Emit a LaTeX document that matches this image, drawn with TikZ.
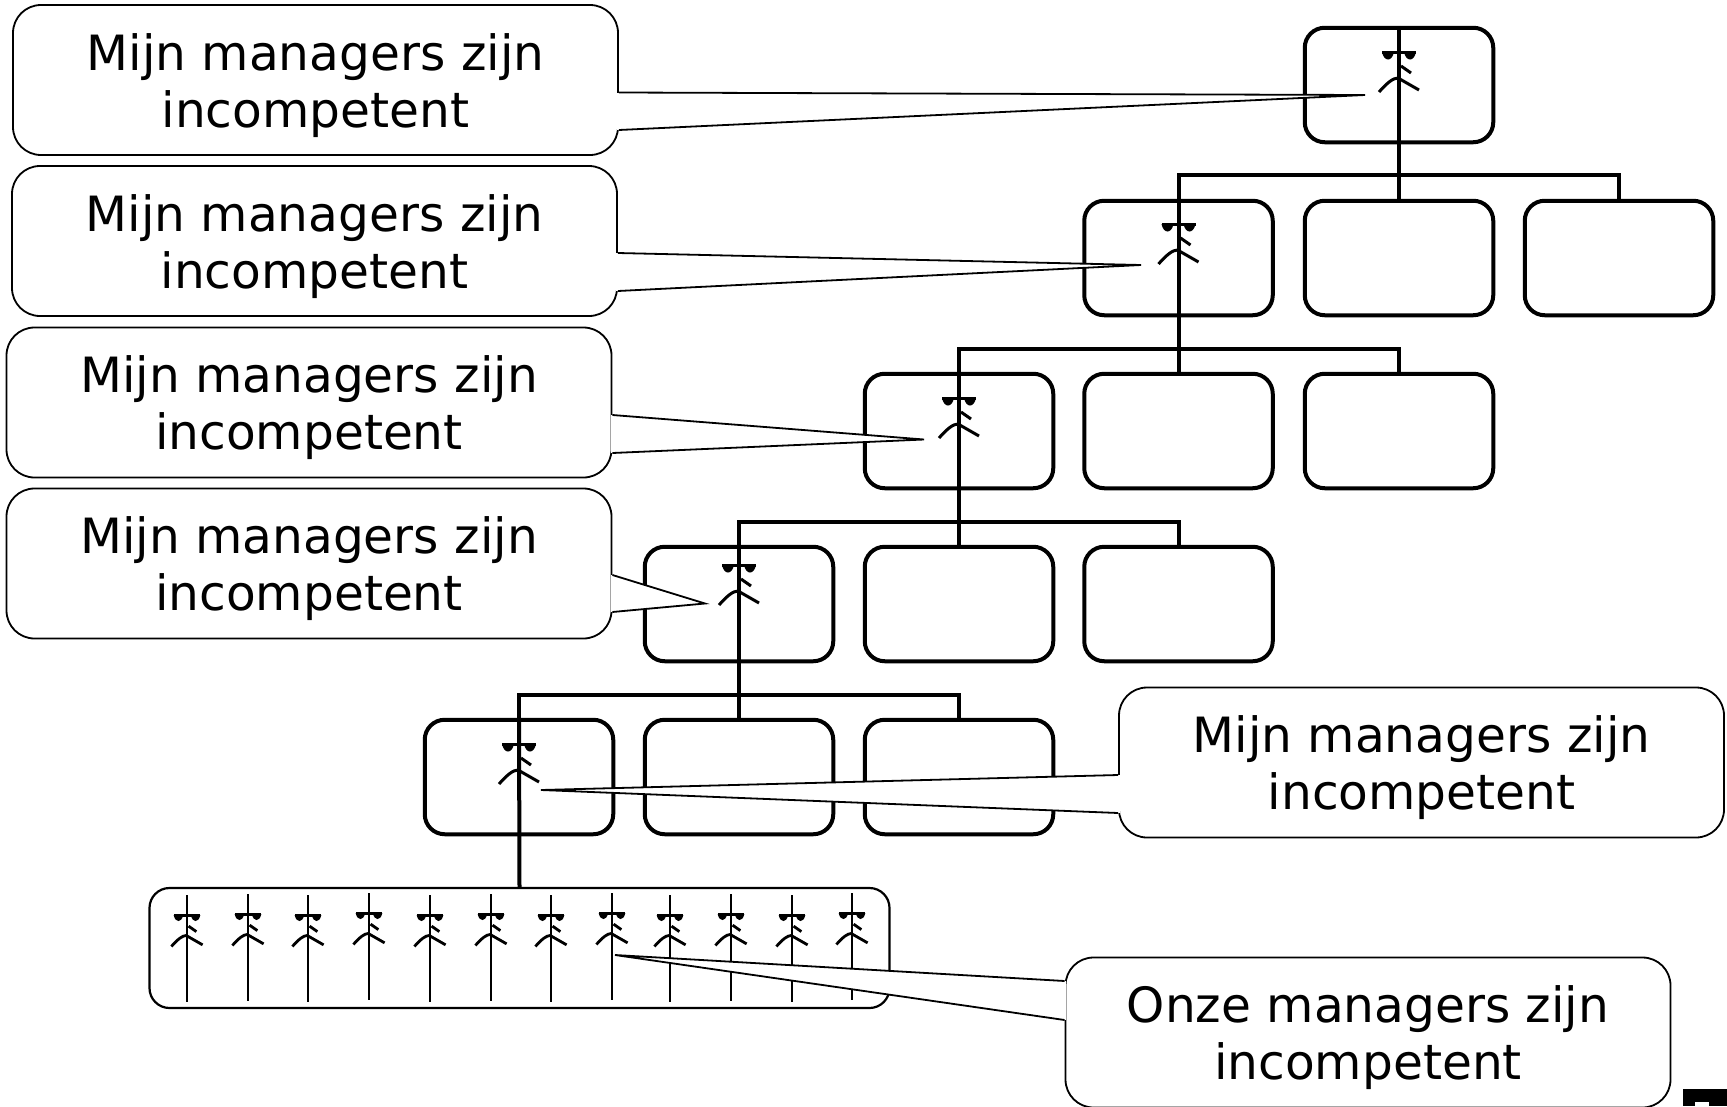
\documentclass[tikz,border=0pt]{standalone}
\usepackage{fontspec}
\setmainfont{DejaVu Sans}
\tikzset{
  orgbox/.style={draw, line width=4pt, rounded corners=20pt, minimum width=188.5pt, minimum height=114.5pt, inner sep=0pt},
  groupbox/.style={draw, line width=2.2pt, rounded corners=20pt, minimum width=740pt, minimum height=120pt, inner sep=0pt},
  callbox/.style={draw, fill=white, line width=1.8pt, rounded corners=28pt, minimum width=605pt, minimum height=150pt, inner sep=0pt, align=center, font=\fontsize{48.6}{57}\selectfont},
  orgline/.style={line width=4pt},
  thinline/.style={line width=2.8pt},
  tailline/.style={line width=1.8pt, line join=miter}
}
% text of the callouts, pushed down a little
\newcommand{\calltext}[1]{\rule{0pt}{48pt}#1 managers zijn\\incompetent}
% a face with sunglasses, arms below it
\newcommand{\bossface}[3]{
  \begin{scope}[shift={(#1,#2)}, scale=#3]
    \fill (-17,-1) .. controls (-15,9) and (-7,9) .. (-5,-1) -- cycle;
    \fill (5,-1) .. controls (7,9) and (15,9) .. (17,-1) -- cycle;
    \fill (-17,-2) rectangle (17,1);
    \draw (2,13) -- (12,20);
    \draw (-20,39) .. controls (-12,30) and (-6,25) .. (-1,25) -- (20,37);
  \end{scope}
}
\newcommand{\calltail}[4]{
  \fill[white] (#1.east |- 0,#2) -- (#4) -- (#1.east |- 0,#3) -- cycle;
  \draw[white, line width=3pt] (#1.east |- 0,#2) -- (#1.east |- 0,#3);
  \draw[tailline] (#1.east |- 0,#2) -- (#4) -- (#1.east |- 0,#3);
}
\newcommand{\calltailleft}[4]{
  \fill[white] (#1.west |- 0,#2) -- (#4) -- (#1.west |- 0,#3) -- cycle;
  \draw[white, line width=3pt] (#1.west |- 0,#2) -- (#1.west |- 0,#3);
  \draw[tailline] (#1.west |- 0,#2) -- (#4) -- (#1.west |- 0,#3);
}
\begin{document}
\begin{tikzpicture}[x=1pt, y=-1pt]
  \useasboundingbox (0,0) rectangle (1727,1106);
  % org chart
  \node[orgbox] (b11) at (1399,85) {};
  \node[orgbox] (b21) at (1178.5,258) {};
  \node[orgbox] (b22) at (1399,258) {};
  \node[orgbox] (b23) at (1619,258) {};
  \node[orgbox] (b31) at (959,431) {};
  \node[orgbox] (b32) at (1178.5,431) {};
  \node[orgbox] (b33) at (1399,431) {};
  \node[orgbox] (b41) at (739,604) {};
  \node[orgbox] (b42) at (959,604) {};
  \node[orgbox] (b43) at (1178.5,604) {};
  \node[orgbox] (b51) at (519,777) {};
  \node[orgbox] (b52) at (739,777) {};
  \node[orgbox] (b53) at (959,777) {};
  \node[groupbox] (staff) at (519.5,948) {};
  \draw[orgline] (b11.north) -- (b22.north);
  \draw[orgline] (b21.north) -- (b32.north);
  \draw[orgline] (b31.north) -- (b42.north);
  \draw[orgline] (b41.north) -- (b52.north);
  \draw[orgline] (b51.north) -- (staff.north);
  \draw[orgline] (b21.north) -- (1178.5,175) -- (1619,175) -- (b23.north);
  \draw[orgline] (b31.north) -- (959,349) -- (1399,349) -- (b33.north);
  \draw[orgline] (b41.north) -- (739,522) -- (1178.5,522) -- (b43.north);
  \draw[orgline] (b51.north) -- (519,695) -- (959,695) -- (b53.north);
  % faces
  \begin{scope}[line width=3pt]
    \bossface{1399}{53}{1}
    \bossface{1178.5}{225}{1}
    \bossface{959}{399}{1}
    \bossface{739}{566}{1}
    \bossface{519}{745}{1}
  \end{scope}
  % staff
  \begin{scope}[thinline]
    \foreach \px/\py in {187/0, 248/-1, 308/0, 369/-2, 430/0, 491/-1, 551/0, 612/-2, 670/0, 731/-1, 792/0, 852/-2} {
      \draw (\px,895+\py) -- (\px,1002+\py);
      \bossface{\px}{916+\py}{0.78}
    }
  \end{scope}
  % callouts
  \node[callbox] (c1) at (315.5,80) {\calltext{Mijn}};
  \coordinate (t1) at (1365,95);
  \calltail{c1}{92.5}{130}{t1}
  \node[callbox] (c2) at (314.5,241) {\calltext{Mijn}};
  \coordinate (t2) at (1141,265);
  \calltail{c2}{253}{291}{t2}
  \node[callbox] (c3) at (309,402.5) {\calltext{Mijn}};
  \coordinate (t3) at (924,439.5);
  \calltail{c3}{415}{453}{t3}
  \node[callbox] (c4) at (309,563.5) {\calltext{Mijn}};
  \coordinate (t4) at (705,603.5);
  \calltail{c4}{575}{612}{t4}
  \node[callbox] (c5) at (1421.5,762.5) {\calltext{Mijn}};
  \coordinate (t5) at (541,790);
  \calltailleft{c5}{775}{813}{t5}
  \node[callbox] (c6) at (1368,1032.5) {\calltext{Onze}};
  \coordinate (t6) at (615,955);
  \calltailleft{c6}{981}{1020}{t6}
  % corner mark
  \fill (1683,1089) rectangle (1727,1106);
  \fill[white] (1695,1102) rectangle (1709,1106);
\end{tikzpicture}
\end{document}
